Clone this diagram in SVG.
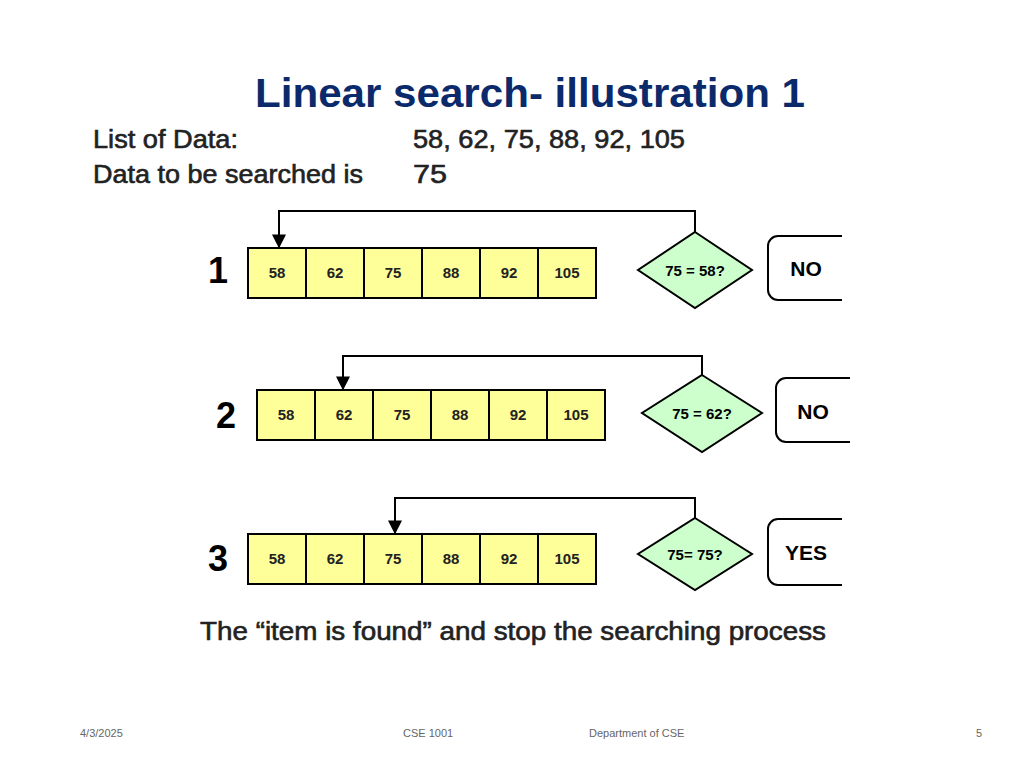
<svg xmlns="http://www.w3.org/2000/svg" width="1024" height="768" viewBox="0 0 1024 768">
<defs>
<style>
.c{fill:#ffff99;stroke:#000;stroke-width:2}
.d{fill:#ccffcc;stroke:#000;stroke-width:2}
.ct{font-family:"Liberation Sans",Arial,sans-serif;font-size:15px;font-weight:bold;text-anchor:middle;fill:#222}
.dt{font-family:"Liberation Sans",Arial,sans-serif;font-size:15px;font-weight:bold;text-anchor:middle;fill:#000}
.rt{font-family:"Liberation Sans",Arial,sans-serif;font-size:21px;font-weight:bold;text-anchor:middle;fill:#000}
.n{font-family:"Liberation Sans",Arial,sans-serif;font-size:36px;font-weight:bold;fill:#000}
.h{font-family:"Liberation Sans",Arial,sans-serif;font-size:25px;fill:#222;stroke:#222;stroke-width:0.6}
.f{font-family:"Liberation Sans",Arial,sans-serif;font-size:11px;fill:#666}
.w{fill:none;stroke:#000;stroke-width:2}
</style>
<marker id="a" viewBox="0 0 10 10" refX="9" refY="5" markerWidth="7" markerHeight="7" orient="auto"><path d="M0,0L10,5L0,10z" fill="#000"/></marker>
<g id="arr">
<rect class="c" x="0" y="0" width="58" height="50"/><rect class="c" x="58" y="0" width="58" height="50"/><rect class="c" x="116" y="0" width="58" height="50"/><rect class="c" x="174" y="0" width="58" height="50"/><rect class="c" x="232" y="0" width="58" height="50"/><rect class="c" x="290" y="0" width="58" height="50"/>
<text class="ct" x="29" y="30">58</text><text class="ct" x="87" y="30">62</text><text class="ct" x="145" y="30">75</text><text class="ct" x="203" y="30">88</text><text class="ct" x="261" y="30">92</text><text class="ct" x="319" y="30">105</text>
</g>
</defs>
<rect width="1024" height="768" fill="#fff"/>
<text x="530" y="107" text-anchor="middle" font-family="Liberation Sans,Arial,sans-serif" font-size="40" font-weight="bold" fill="#0b2a6b" textLength="550" lengthAdjust="spacingAndGlyphs">Linear search- illustration 1</text>
<text class="h" x="93" y="148" textLength="145" lengthAdjust="spacingAndGlyphs">List of Data:</text>
<text class="h" x="413" y="148" textLength="272" lengthAdjust="spacingAndGlyphs">58, 62, 75, 88, 92, 105</text>
<text class="h" x="93" y="183" textLength="270" lengthAdjust="spacingAndGlyphs">Data to be searched is</text>
<text class="h" x="413" y="183" textLength="34" lengthAdjust="spacingAndGlyphs">75</text>

<g id="row1">
<text class="n" x="208" y="283">1</text>
<use href="#arr" x="248" y="248"/>
<polygon class="d" points="695,232 752,270 695,308 638,270"/>
<text class="dt" x="695" y="276">75 = 58?</text>
<path class="w" d="M842,236H778a10,10 0 0 0 -10,10V290a10,10 0 0 0 10,10H842"/>
<text class="rt" x="806" y="276">NO</text>
</g>
<g id="row2">
<text class="n" x="216" y="428">2</text>
<use href="#arr" x="257" y="390"/>
<polygon class="d" points="702,375 762,413 702,452 642,413"/>
<text class="dt" x="702" y="419">75 = 62?</text>
<path class="w" d="M850,378H786a10,10 0 0 0 -10,10V432a10,10 0 0 0 10,10H850"/>
<text class="rt" x="813" y="419">NO</text>
</g>
<g id="row3">
<text class="n" x="208" y="571">3</text>
<use href="#arr" x="248" y="534"/>
<polygon class="d" points="695,518 752,554 695,590 638,554"/>
<text class="dt" x="695" y="560">75= 75?</text>
<path class="w" d="M842,519H778a10,10 0 0 0 -10,10V575a10,10 0 0 0 10,10H842"/>
<text class="rt" x="806" y="560">YES</text>
</g>
<g id="connectors" fill="none" stroke="#000" stroke-width="2">
<path d="M695,232V211H279V247" marker-end="url(#a)"/>
<path d="M702,375V356H343V389" marker-end="url(#a)"/>
<path d="M695,518V498H395V533" marker-end="url(#a)"/>
</g>
<text class="h" x="200" y="640" textLength="626" lengthAdjust="spacingAndGlyphs">The “item is found” and stop the searching process</text>
<text class="f" x="80" y="737">4/3/2025</text>
<text class="f" x="403" y="737">CSE 1001</text>
<text class="f" x="589" y="737">Department of CSE</text>
<text class="f" x="976" y="737">5</text>
</svg>
